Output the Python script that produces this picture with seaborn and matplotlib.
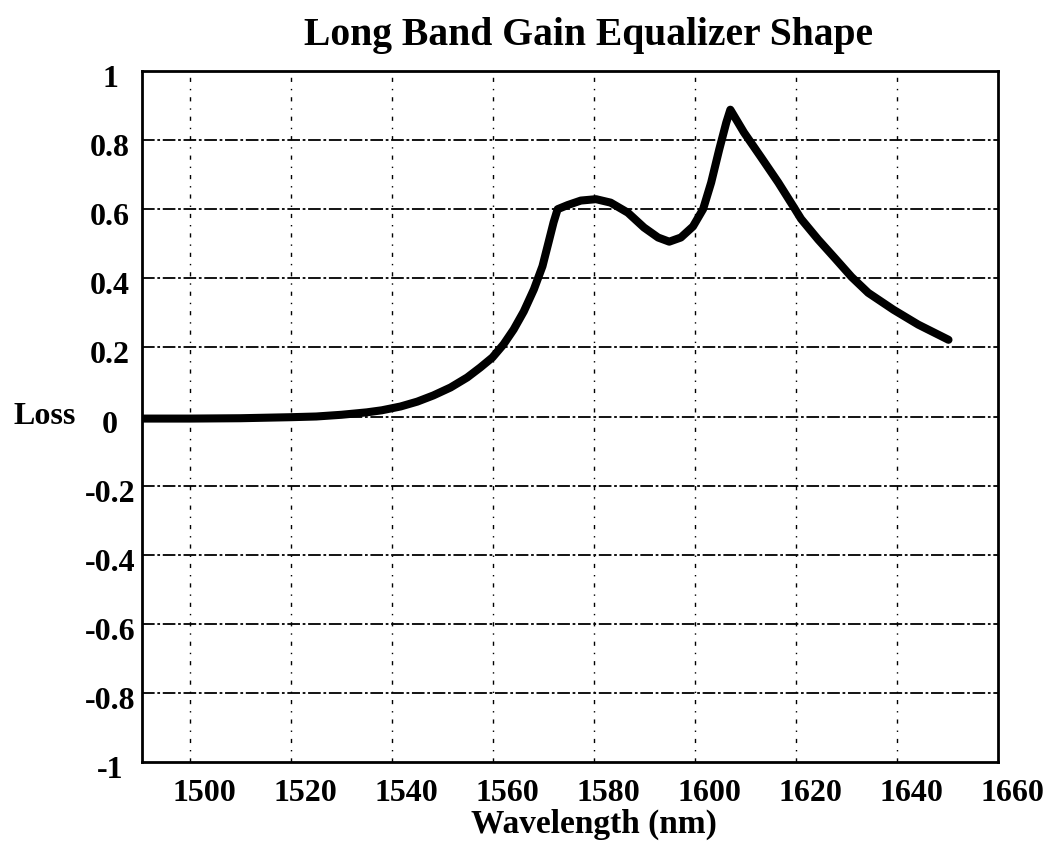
import matplotlib
matplotlib.use("Agg")
import matplotlib.pyplot as plt
import matplotlib.transforms as mtransforms
import seaborn as sns
import pandas as pd

# ---- data ----
wavelength_nm = [1490.5, 1500, 1510, 1520, 1525, 1530, 1535, 1538, 1541.7, 1545.0,
                 1548.2, 1551.6, 1554.9, 1557.5, 1559.9, 1562.1, 1564.1, 1566.1, 1568.1, 1569.8,
                 1571.0, 1572.0, 1572.8, 1574.8, 1577.4, 1580.4, 1583.3, 1586.7, 1589.9, 1592.7,
                 1594.9, 1597.2, 1599.6, 1601.6, 1603.2, 1604.8, 1606.2, 1607.0, 1609.7, 1613.1,
                 1616.5, 1619.6, 1621.0, 1624.4, 1627.6, 1631.0, 1634.3, 1639.3, 1644.2, 1650.2]
loss = [-0.006, -0.006, -0.005, -0.002, 0.000, 0.005, 0.012, 0.018, 0.029, 0.043,
        0.061, 0.084, 0.113, 0.142, 0.171, 0.209, 0.252, 0.304, 0.368, 0.435,
        0.504, 0.562, 0.600, 0.612, 0.625, 0.629, 0.619, 0.590, 0.547, 0.518,
        0.506, 0.518, 0.550, 0.600, 0.677, 0.773, 0.851, 0.888, 0.822, 0.750,
        0.677, 0.605, 0.572, 0.512, 0.460, 0.404, 0.358, 0.309, 0.266, 0.222]
x_ticks = [1500, 1520, 1540, 1560, 1580, 1600, 1620, 1640, 1660]
y_ticks = [1, 0.8, 0.6, 0.4, 0.2, 0, -0.2, -0.4, -0.6, -0.8, -1]
y_tick_labels = ["1", "0.8", "0.6", "0.4", "0.2", "0", "-0.2", "-0.4", "-0.6", "-0.8", "-1"]
title = "Long Band Gain Equalizer Shape"
x_label = "Wavelength (nm)"
y_label = "Loss"

df = pd.DataFrame({"wavelength": wavelength_nm, "loss": loss})

sns.set_style("white")
plt.rcParams["font.family"] = ["Liberation Serif", "DejaVu Serif"]
plt.rcParams["font.weight"] = "bold"
plt.rcParams["text.color"] = "black"
plt.rcParams["xtick.color"] = "black"
plt.rcParams["ytick.color"] = "black"

fig = plt.figure(figsize=(10.51, 8.48), dpi=100)
ax = fig.add_axes([142 / 1051, 1 - 762 / 848, (998 - 142) / 1051, (762 - 71) / 848])

sns.lineplot(data=df, x="wavelength", y="loss", ax=ax, color="black",
             linewidth=5.8, solid_capstyle="round", solid_joinstyle="round", sort=False)

ax.set_xlim(1490.5, 1660)
ax.set_ylim(-1, 1)
ax.set_xticks(x_ticks)
ax.set_yticks(y_ticks)
ax.set_yticklabels(y_tick_labels)

# grid
for yv in y_ticks:
    if -1 < yv < 1:
        ax.axhline(yv, color="black", linewidth=1.3, linestyle=(0, (7, 1.5, 1.5, 1.5)), zorder=0)
for xv in x_ticks:
    if xv < 1660:
        ax.axvline(xv, color="black", linewidth=1.0, linestyle=(0, (3, 5, 1, 5)), zorder=0)

for s in ax.spines.values():
    s.set_color("black")
    s.set_linewidth(2.0)

ax.tick_params(axis="both", direction="in", length=5, width=1.2, color="black",
               labelsize=23, labelcolor="black")
ax.tick_params(axis="x", pad=12)
ax.tick_params(axis="y", pad=23)
for lab in ax.get_yticklabels():
    lab.set_horizontalalignment("center")
    lab.set_fontweight("bold")
    lab.set_transform(lab.get_transform() + mtransforms.ScaledTranslation(0, -5 / 100, fig.dpi_scale_trans))
for lab in ax.get_xticklabels():
    lab.set_fontweight("bold")
    lab.set_transform(lab.get_transform() + mtransforms.ScaledTranslation(14 / 100, 0, fig.dpi_scale_trans))

ax.set_xlabel("")
ax.set_ylabel("")
fig.text(588 / 1051, 1 - 36 / 848, title, ha="center", va="center", fontsize=28.5, fontweight="bold", color="black")
fig.text(594 / 1051, 1 - 824 / 848, x_label, ha="center", va="center", fontsize=24, fontweight="bold", color="black")
fig.text(45 / 1051, 1 - 416 / 848, y_label, ha="center", va="center", fontsize=23, fontweight="bold", color="black")

fig.savefig("out.png", dpi=100, facecolor="white")
